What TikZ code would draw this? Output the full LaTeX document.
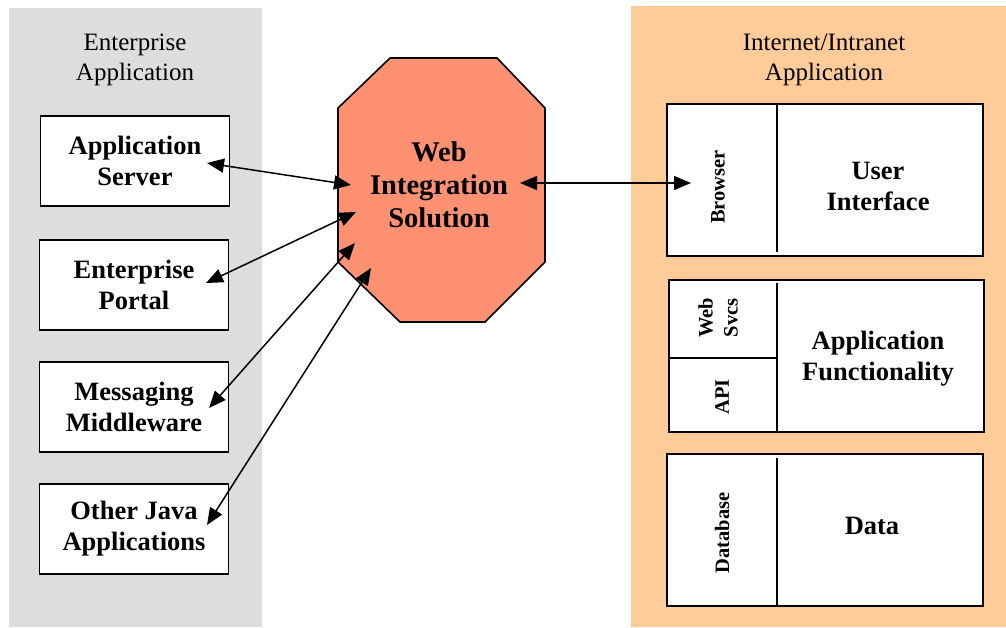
\documentclass[tikz,border=0pt]{standalone}
\usepackage{fontspec}
\setmainfont{Liberation Serif}
\usetikzlibrary{arrows.meta}

\definecolor{entgray}{RGB}{221,221,221}
\definecolor{netorange}{RGB}{255,204,153}
\definecolor{wisred}{RGB}{255,145,115}

\tikzset{
  title/.style={align=center,font=\fontsize{25}{30}\selectfont},
  appbox/.style={draw,line width=1.8pt,fill=white,minimum width=189pt,minimum height=90pt,
    align=center,font=\bfseries\fontsize{26.5}{31}\selectfont},
  tier/.style={draw,line width=1.8pt,fill=white},
  tiertext/.style={align=center,font=\bfseries\fontsize{26.5}{31}\selectfont},
  side/.style={rotate=90,align=center,font=\bfseries\fontsize{20.5}{25}\selectfont},
  link/.style={line width=1.5pt,{Triangle[length=17pt,width=14pt]}-{Triangle[length=17pt,width=14pt]}}
}

\begin{document}
\begin{tikzpicture}[x=1pt,y=-1pt]
\useasboundingbox (0,0) rectangle (1006,627);
% the two application sides
\fill[entgray] (9,8) rectangle (262,627);
\fill[netorange] (631,6) rectangle (1006,627);
\node[title] (enttitle) at (135,60) {Enterprise\\Application};
\node[title] (nettitle) at (824,60) {Internet/Intranet\\Application};

% enterprise side
\node[appbox] (appsrv) at (135,161) {Application\\Server};
\node[appbox] (portal) at (134,285) {Enterprise\\Portal};
\node[appbox] (msgmw) at (134,407) {Messaging\\Middleware};
\node[appbox] (javaapp) at (134,529) {Other Java\\Applications};

% integration octagon
\draw[line width=1.6pt,fill=wisred] (390,58) -- (497,58) -- (545,108) -- (545,262) -- (485,322)
  -- (400,322) -- (338,262) -- (338,108) -- cycle;
\node[tiertext,font=\bfseries\fontsize{28.5}{33}\selectfont] (wis) at (439,185) {Web\\Integration\\Solution};

% internet side
\draw[tier] (667,104) rectangle (983,256);
\draw[line width=1.6pt] (777,104) -- (777,252);
\node[side] (browser) at (718,187) {Browser};
\node[tiertext] (ui) at (878,186) {User\\Interface};

\draw[tier] (669,280) rectangle (984,432);
\draw[line width=1.6pt] (777,283) -- (777,432);
\draw[line width=1.6pt] (669,358) -- (777,358);
\node[side] (websvcs) at (718,318) {Web\\Svcs};
\node[side] (api) at (722,397) {API};
\node[tiertext] (appfunc) at (878,359) {Application\\Functionality};

\draw[tier] (667,454) rectangle (983,606);
\draw[line width=1.6pt] (777,458) -- (777,606);
\node[side] (db) at (722,533) {Database};
\node[tiertext] (data) at (872,526) {Data};

% arrow ends
\coordinate (appsrvend) at (207,163);
\coordinate (portalend) at (206,283);
\coordinate (msgmwend) at (209,408);
\coordinate (javaend) at (207,525);
\coordinate (wisa) at (351,185);
\coordinate (wisb) at (356,212);
\coordinate (wisc) at (355,243);
\coordinate (wisd) at (371,268);
\coordinate (wise) at (520,183);
\coordinate (browserend) at (691,183);

\draw[link] (appsrvend) -- (wisa);
\draw[link] (portalend) -- (wisb);
\draw[link] (msgmwend) -- (wisc);
\draw[link] (javaend) -- (wisd);
\draw[link] (wise) -- (browserend);
\end{tikzpicture}
\end{document}
